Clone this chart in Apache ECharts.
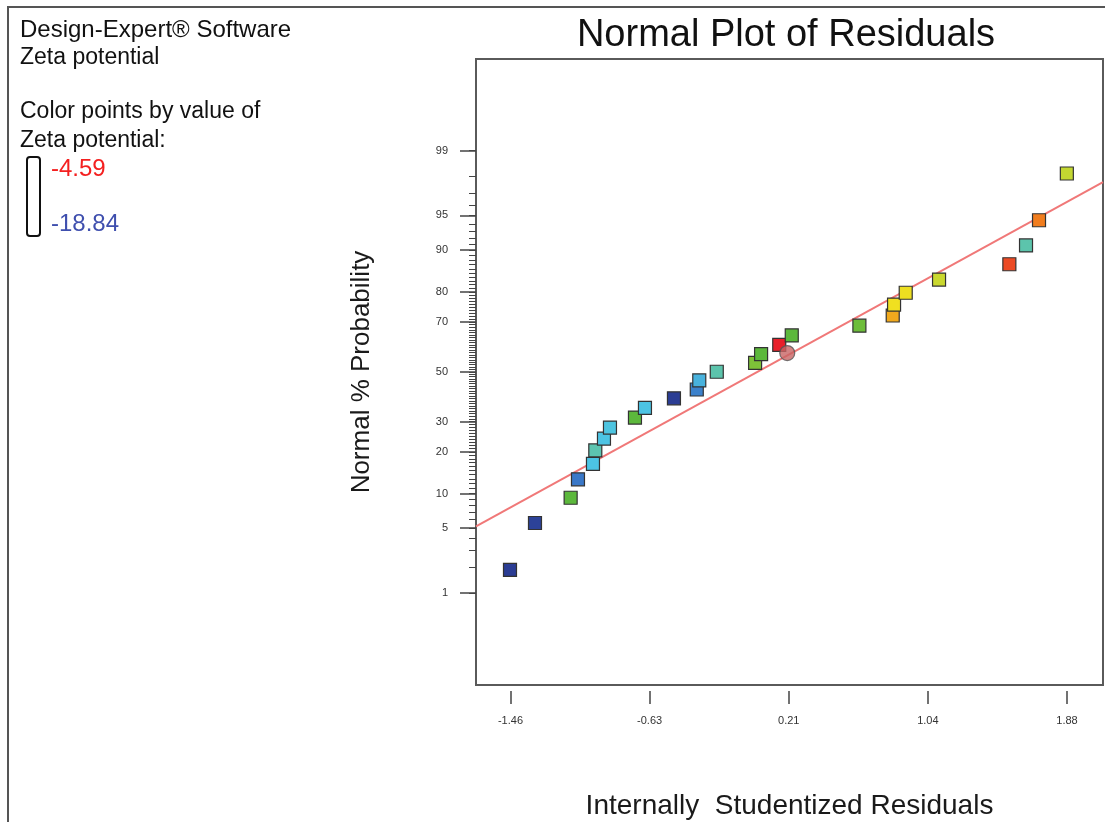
<!DOCTYPE html>
<html>
<head>
<meta charset="utf-8">
<script src="https://cdn.jsdelivr.net/npm/echarts@6/dist/echarts.min.js"></script>
<style>
html,body{margin:0;padding:0;background:#fff;}
#chart{width:1105px;height:822px;}
</style>
</head>
<body>
<div id="chart"></div>
<script>
// ---- data ----
const residuals = [-1.463, -1.313, -1.099, -1.055, -0.965, -0.951, -0.899, -0.863, -0.713, -0.653, -0.479, -0.342, -0.327, -0.222,
                   0.008, 0.044, 0.153, 0.228, 0.634, 0.834, 0.842, 0.912, 1.112, 1.534, 1.634, 1.712, 1.879];
const probabilities = [1.86, 5.58, 9.25, 12.9, 16.65, 20.4, 24.1, 27.85, 31.5, 35.2, 39.0, 42.6, 46.4, 50.0,
                       53.7, 57.4, 61.1, 64.9, 68.6, 72.3, 76.0, 79.7, 83.4, 87.1, 90.8, 94.45, 98.15];
const zeta = [-18.84, -18.70, -11.72, -17.06, -15.28, -13.50, -15.28, -15.13, -11.72, -15.28, -18.84, -16.85, -15.71, -13.43,
              -11.15, -11.72, -4.59, -11.72, -11.43, -7.01, -8.15, -8.29, -9.86, -5.30, -13.43, -6.16, -10.01];
const highlightResidual = [0.201];
const highlightProbability = [57.8];
const fitLineResidual = [-1.667, 2.096];
const fitLineProbability = [5.2, 97.7];
const zetaMin = -18.84, zetaMax = -4.59;
const yTickLabels = [1, 5, 10, 20, 30, 50, 70, 80, 90, 95, 99];
const yMinorTicks = Array.from({length: 99}, (_, i) => i + 1);
const xTickValues = [-1.46, -0.625, 0.21, 1.045, 1.88];
const xTickLabels = ['-1.46', '-0.63', '0.21', '1.04', '1.88'];

// inverse standard normal CDF (probability-scale axis)
function normInv(p) {
  const a=[-3.969683028665376e+01,2.209460984245205e+02,-2.759285104469687e+02,1.383577518672690e+02,-3.066479806614716e+01,2.506628277459239e+00];
  const b=[-5.447609879822406e+01,1.615858368580409e+02,-1.556989798598866e+02,6.680131188771972e+01,-1.328068155288572e+01];
  const c=[-7.784894002430293e-03,-3.223964580411365e-01,-2.400758277161838e+00,-2.549732539343734e+00,4.374664141464968e+00,2.938163982698783e+00];
  const d=[7.784695709041462e-03,3.224671290700398e-01,2.445134137142996e+00,3.754408661907416e+00];
  const pl=0.02425, ph=1-pl;
  if(p<pl){const q=Math.sqrt(-2*Math.log(p));return (((((c[0]*q+c[1])*q+c[2])*q+c[3])*q+c[4])*q+c[5])/((((d[0]*q+d[1])*q+d[2])*q+d[3])*q+1);}
  if(p<=ph){const q=p-0.5,r=q*q;return (((((a[0]*r+a[1])*r+a[2])*r+a[3])*r+a[4])*r+a[5])*q/(((((b[0]*r+b[1])*r+b[2])*r+b[3])*r+b[4])*r+1);}
  const q=Math.sqrt(-2*Math.log(1-p));return -(((((c[0]*q+c[1])*q+c[2])*q+c[3])*q+c[4])*q+c[5])/((((d[0]*q+d[1])*q+d[2])*q+d[3])*q+1);
}
const pz = pct => normInv(pct / 100);

const yMajorZ = yTickLabels.map(pz);
const yMinorZ = yMinorTicks.map(pz);
const pointData = residuals.map((r, i) => [r, pz(probabilities[i]), zeta[i]]);
const highlightData = highlightResidual.map((r, i) => [r, pz(highlightProbability[i])]);
const lineData = fitLineResidual.map((r, i) => [r, pz(fitLineProbability[i])]);

const FONT = '"Liberation Sans", Arial, sans-serif';
const LEFT_FONT = '23px "Liberation Sans", Arial, sans-serif';
const chart = echarts.init(document.getElementById('chart'), null, {renderer: 'canvas'});
chart.setOption({
  animation: false,
  backgroundColor: '#ffffff',
  textStyle: {fontFamily: FONT},
  grid: {left: 476, top: 59, width: 627, height: 626, show: true, borderColor: '#5a5a5a', borderWidth: 2,
         backgroundColor: 'transparent', containLabel: false, outerBoundsMode: 'none'},
  xAxis: {
    type: 'value', min: -1.667, max: 2.096, offset: 6,
    name: 'Internally  Studentized Residuals', nameLocation: 'middle', nameGap: 101,
    nameTextStyle: {fontSize: 28, color: '#1a1a1a', fontFamily: FONT},
    axisLine: {show: false, onZero: false},
    axisTick: {show: true, customValues: xTickValues, length: 13, lineStyle: {color: '#444', width: 1.5}},
    axisLabel: {customValues: xTickValues, margin: 24, fontSize: 11, color: '#333', fontFamily: FONT,
      formatter: v => { let k = 0; xTickValues.forEach((t, i) => { if (Math.abs(t - v) < Math.abs(xTickValues[k] - v)) k = i; }); return xTickLabels[k]; }},
    splitLine: {show: false}
  },
  yAxis: [{
    type: 'value', min: -3.295, max: 3.29, position: 'left', offset: 0,
    name: 'Normal % Probability', nameLocation: 'middle', nameGap: 101, nameRotate: 90,
    nameTextStyle: {fontSize: 26, color: '#1a1a1a', fontFamily: FONT},
    axisLine: {show: false, onZero: false},
    axisTick: {show: true, customValues: yMajorZ, length: 16, lineStyle: {color: '#444', width: 1.5}},
    axisLabel: {customValues: yMajorZ, margin: 28, fontSize: 11, color: '#333', fontFamily: FONT,
      formatter: v => { let k = 0; yMajorZ.forEach((t, i) => { if (Math.abs(t - v) < Math.abs(yMajorZ[k] - v)) k = i; }); return String(yTickLabels[k]); }},
    splitLine: {show: false}
  }, {
    type: 'value', min: -3.295, max: 3.29, position: 'left', offset: 0,
    axisLine: {show: false, onZero: false},
    axisTick: {show: true, customValues: yMinorZ, length: 7, lineStyle: {color: '#444', width: 1}},
    axisLabel: {show: false},
    splitLine: {show: false}
  }],
  visualMap: {
    type: 'continuous', show: false, min: zetaMin, max: zetaMax, dimension: 2, seriesIndex: 1,
    inRange: {color: ['#2b3d94', '#3a78c8', '#4cc4e4', '#5cc4b0', '#5cb83c', '#c8d830', '#f0e020', '#f28a1c', '#e8202a']}
  },
  series: [{
    type: 'line', data: lineData, symbol: 'none', silent: true, z: 1,
    lineStyle: {color: '#f07878', width: 2}
  }, {
    type: 'scatter', data: pointData, symbol: 'rect', symbolSize: 13, z: 3,
    itemStyle: {borderColor: '#333', borderWidth: 1.2, opacity: 1}
  }, {
    type: 'scatter', data: highlightData, symbol: 'circle', symbolSize: 15, z: 4,
    itemStyle: {color: '#c86464', borderColor: '#555', borderWidth: 1.2}
  }],
  graphic: [
    {type: 'rect', shape: {x: 8, y: 7, width: 1300, height: 1000}, style: {fill: 'none', stroke: '#555', lineWidth: 2}, silent: true},
    {type: 'text', left: 20, top: 18, style: {text: 'Design-Expert® Software', font: '24px "Liberation Sans", Arial, sans-serif', fill: '#111'}},
    {type: 'text', left: 20, top: 46, style: {text: 'Zeta potential', font: LEFT_FONT, fill: '#111'}},
    {type: 'text', left: 20, top: 100, style: {text: 'Color points by value of', font: LEFT_FONT, fill: '#111'}},
    {type: 'text', left: 20, top: 129, style: {text: 'Zeta potential:', font: LEFT_FONT, fill: '#111'}},
    {type: 'rect', shape: {x: 27, y: 157, width: 13, height: 79, r: 3}, style: {fill: '#fff', stroke: '#111', lineWidth: 2}},
    {type: 'text', left: 51, top: 157, style: {text: String(zetaMax), font: '24px "Liberation Sans", Arial, sans-serif', fill: '#f42020'}},
    {type: 'text', left: 51, top: 212, style: {text: String(zetaMin), font: '24px "Liberation Sans", Arial, sans-serif', fill: '#3f4fae'}},
    {type: 'text', x: 786, y: 36, style: {text: 'Normal Plot of Residuals', font: '38px "Liberation Sans", Arial, sans-serif', fill: '#111', align: 'center', verticalAlign: 'middle'}}
  ]
});
</script>
</body>
</html>
